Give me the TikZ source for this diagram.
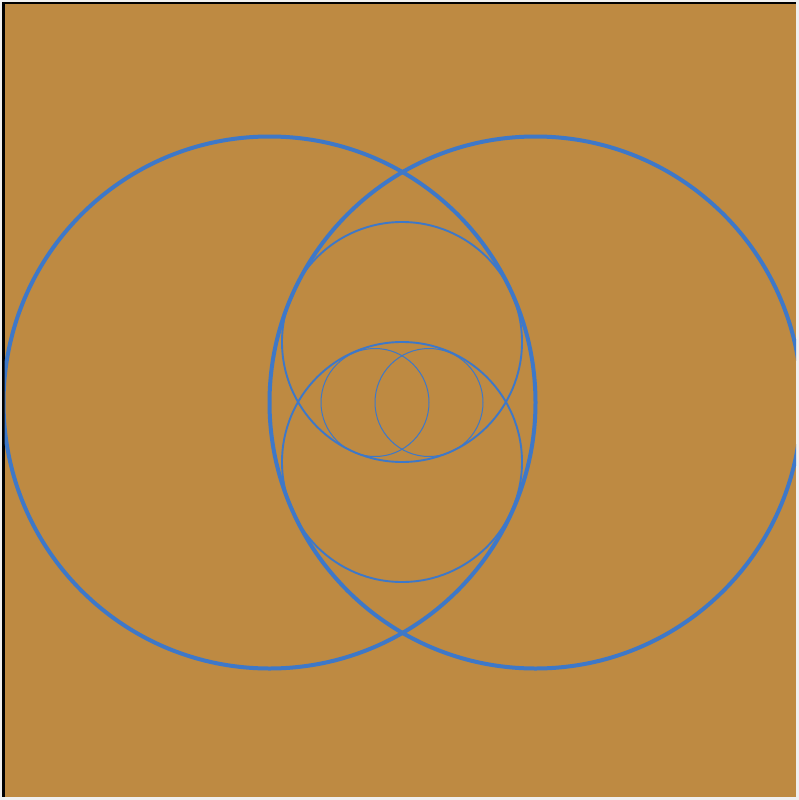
\documentclass[tikz,border=0pt]{standalone}
\definecolor{bgtan}{RGB}{190,138,66}
\definecolor{ringblue}{RGB}{62,120,200}
\definecolor{edgegrey}{RGB}{240,240,240}
\tikzset{
  bigring/.style={draw=ringblue,line width=4pt},
  midring/.style={draw=ringblue,line width=1.9pt},
  smallring/.style={draw=ringblue,line width=1pt}
}
\begin{document}
\begin{tikzpicture}[x=1pt,y=-1pt]
\useasboundingbox (0,0) rectangle (799,800);
\fill[edgegrey] (0,0) rectangle (799,800);
\fill[black] (2,2) rectangle (796,797);
\fill[bgtan] (4.5,4.5) rectangle (796,797);
\begin{scope}
\clip (4.5,4.5) rectangle (796,797);
\draw[bigring] (269.5,402.5) circle (266);
\draw[bigring] (535.5,402.5) circle (266);
\draw[midring] (402,342) circle (120);
\draw[midring] (402,462) circle (120);
\draw[smallring] (375,402.5) circle (54);
\draw[smallring] (429,402.5) circle (54);
\end{scope}
\end{tikzpicture}
\end{document}
